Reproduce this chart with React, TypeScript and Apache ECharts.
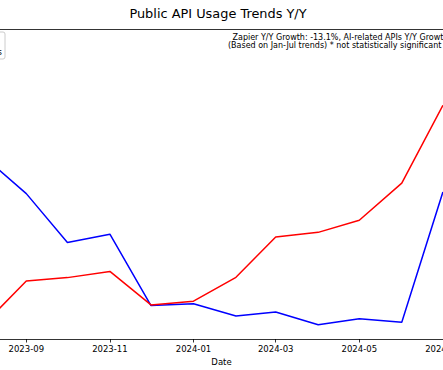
import React, { useEffect, useRef } from "react";
import * as echarts from "echarts";

const months: string[] = [
  "2023-08", "2023-09", "2023-10", "2023-11", "2023-12", "2024-01",
  "2024-02", "2024-03", "2024-04", "2024-05", "2024-06", "2024-07",
];
const zapierValues: number[] = [58.8, 46.9, 31.1, 33.8, 10.8, 11.4, 7.4, 8.7, 4.6, 6.5, 5.4, 47.4];
const aiValues: number[] = [4.7, 18.7, 19.8, 21.8, 11.0, 12.2, 19.9, 32.9, 34.4, 38.3, 50.3, 75.4];
const tickLabels: string[] = ["2023-09", "2023-11", "2024-01", "2024-03", "2024-05", "2024-07"];

const FONT = "DejaVu Sans";
const DAY = 86400000;

function toTime(s: string): number {
  const [y, m] = s.split("-").map(Number);
  return Date.UTC(y, m - 1, 1);
}
function fmt(v: number): string {
  const d = new Date(v);
  const mm = String(d.getUTCMonth() + 1).padStart(2, "0");
  return `${d.getUTCFullYear()}-${mm}`;
}

export default function App() {
  const ref = useRef<HTMLDivElement>(null);
  useEffect(() => {
    if (!ref.current) return;
    const chart = echarts.init(ref.current, undefined, { renderer: "svg" });
    const tickTimes = tickLabels.map(toTime);
    const xMin = toTime("2023-09") - 19.19 * DAY;
    const xMax = toTime("2024-05") + 61.08 * DAY;
    chart.setOption({
      animation: false,
      backgroundColor: "#ffffff",
      title: {
        text: "Public API Usage Trends Y/Y",
        left: 213,
        textAlign: "center",
        top: 2,
        textStyle: { fontFamily: FONT, fontSize: 12.9, fontWeight: "normal", color: "#000" },
      },
      grid: { left: 0, right: 0, top: 29, bottom: 31, outerBoundsMode: "none", containLabel: false },
      xAxis: [
        {
          type: "value",
          min: xMin,
          max: xMax,
          name: "Date",
          nameLocation: "middle",
          nameGap: 16,
          nameTextStyle: { fontFamily: FONT, fontSize: 8.5, color: "#000" },
          axisLine: { show: true, onZero: false, lineStyle: { color: "#000", width: 0.8 } },
          axisTick: { show: true, length: 3.5, lineStyle: { color: "#000", width: 0.8 }, customValues: tickTimes },
          axisLabel: {
            show: true,
            margin: 5,
            fontFamily: FONT,
            fontSize: 8.5,
            color: "#000",
            customValues: tickTimes,
            formatter: (v: number) => fmt(v),
          },
          splitLine: { show: false },
        },
        {
          type: "value",
          position: "top",
          min: 0,
          max: 1,
          axisLine: { show: true, onZero: false, lineStyle: { color: "#000", width: 0.8 } },
          axisTick: { show: false },
          axisLabel: { show: false },
          splitLine: { show: false },
        },
      ],
      yAxis: {
        type: "value",
        min: 0,
        max: 100,
        show: false,
        splitLine: { show: false },
      },
      series: [
        {
          name: "Zapier",
          type: "line",
          showSymbol: false,
          data: months.map((m, i) => [toTime(m), zapierValues[i]]),
          lineStyle: { color: "#0000ff", width: 1.5 },
          itemStyle: { color: "#0000ff" },
        },
        {
          name: "AI-related APIs",
          type: "line",
          showSymbol: false,
          data: months.map((m, i) => [toTime(m), aiValues[i]]),
          lineStyle: { color: "#ff0000", width: 1.5 },
          itemStyle: { color: "#ff0000" },
        },
      ],
      graphic: [
        {
          type: "rect",
          shape: { x: -150, y: 32, width: 155, height: 27, r: 2 },
          style: { fill: "rgba(255,255,255,0.8)", stroke: "#cccccc", lineWidth: 1 },
        },
        {
          type: "text",
          x: 2,
          y: 52,
          style: { text: "AI-related APIs", fontFamily: FONT, fontSize: 8, fill: "#000", align: "right", verticalAlign: "middle" },
        },
        {
          type: "text",
          x: 232.5,
          y: 37,
          style: { text: "Zapier Y/Y Growth: -13.1%, AI-related APIs Y/Y Growth", fontFamily: FONT, fontSize: 8, fill: "#000", align: "left", verticalAlign: "middle" },
        },
        {
          type: "text",
          x: 228,
          y: 45.5,
          style: { text: "(Based on Jan-Jul trends) * not statistically significant", fontFamily: FONT, fontSize: 8, fill: "#000", align: "left", verticalAlign: "middle" },
        },
      ],
    });
    return () => chart.dispose();
  }, []);
  return <div ref={ref} style={{ position: "fixed", left: 0, top: 0, width: 443, height: 370 }} />;
}
